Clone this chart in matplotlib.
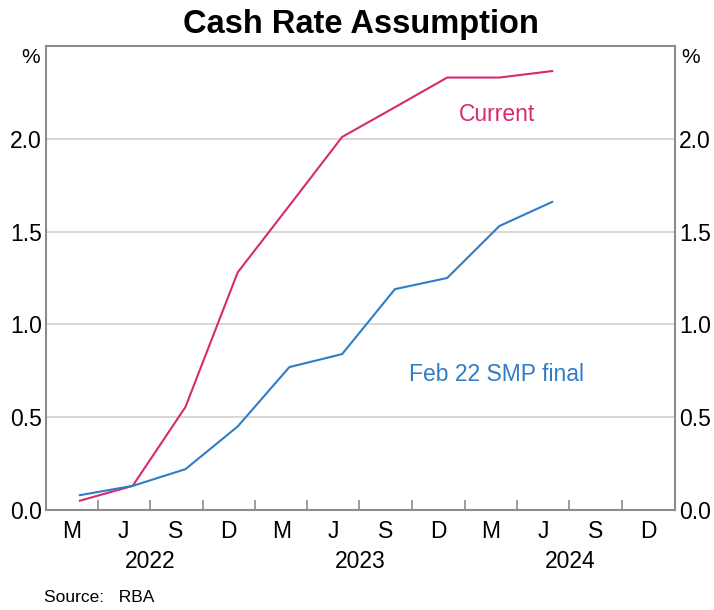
#!/usr/bin/env python3

import pandas as pd
import matplotlib
matplotlib.use('Agg')
import matplotlib.pyplot as plt
import matplotlib.dates as mdates

plt.rcParams['font.family'] = ['Liberation Sans', 'DejaVu Sans']

# quarterly observations
dates = ['2022-03-01', '2022-06-01', '2022-09-01', '2022-12-01', '2023-03-01',
         '2023-06-01', '2023-09-01', '2023-12-01', '2024-03-01', '2024-06-01']
current = [0.05, 0.13, 0.555, 1.28, 1.64, 2.01, 2.17, 2.33, 2.33, 2.365]
feb22_smp = [0.08, 0.13, 0.22, 0.45, 0.77, 0.84, 1.19, 1.25, 1.53, 1.66]

quarter_labels = ['M', 'J', 'S', 'D'] * 3
years = ['2022', '2023', '2024']
y_ticks = [0.0, 0.5, 1.0, 1.5, 2.0]

x = pd.to_datetime(dates)
pink = '#d62a72'
blue = '#2f7dc9'
grey = '#8c8c8c'
fs = 16.5

fig = plt.figure(figsize=(7.14, 6.10), dpi=100)
ax = fig.add_axes([46/714, 1-510/610, (675-46)/714, (510-46)/610])

ax.plot(x, current, color=pink, lw=1.5)
ax.plot(x, feb22_smp, color=blue, lw=1.5)

ax.set_xlim(pd.Timestamp('2022-01-01'), pd.Timestamp('2025-01-01'))
ax.set_ylim(0, 2.5)

# quarter boundaries as tick marks, labels centred in quarters
bounds = pd.date_range('2022-04-01', '2024-10-01', freq='QS')
ax.set_xticks(bounds)
ax.set_xticklabels([])
ax.tick_params(axis='x', which='major', direction='in', length=7, width=1.2, color=grey)
mids = pd.date_range('2022-01-01', '2024-10-01', freq='QS') + pd.Timedelta(days=45)
ax.set_xticks(mids, minor=True)
ax.set_xticklabels(quarter_labels, minor=True, fontsize=fs)
ax.tick_params(axis='x', which='minor', length=0, pad=7)
for yr in years:
    ax.text(pd.Timestamp(f'{yr}-07-02'), -0.215, yr, ha='center', va='top', fontsize=fs)

ax.set_yticks(y_ticks)
ax.set_yticklabels([f'{v:.1f}' for v in y_ticks], fontsize=fs)
ax.tick_params(axis='y', length=0, pad=3, labelright=True)
ax.grid(axis='y', color='#d4d4d4', lw=1.3)
ax.set_axisbelow(True)
for s in ax.spines.values():
    s.set_color(grey)
    s.set_linewidth(1.5)

ax.text(-0.01, 0.976, '%', transform=ax.transAxes, ha='right', va='center', fontsize=15)
ax.text(1.01, 0.976, '%', transform=ax.transAxes, ha='left', va='center', fontsize=15)

ax.text(pd.Timestamp('2024-02-25'), 2.13, 'Current', color=pink, ha='center', va='center', fontsize=fs)
ax.text(pd.Timestamp('2024-02-25'), 0.73, 'Feb 22 SMP final', color=blue, ha='center', va='center', fontsize=fs)

fig.text(361/714, 1-24/610, 'Cash Rate Assumption', ha='center', va='center',
         fontsize=23.5, fontweight='bold')
fig.text(44/714, 1-598/610, 'Source:   RBA', ha='left', va='center', fontsize=12.5)

fig.savefig('out.png', dpi=100)
